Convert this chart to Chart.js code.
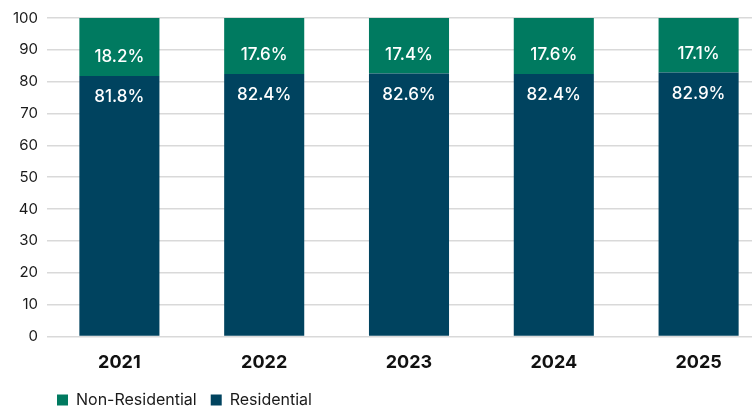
<!DOCTYPE html>
<html>
<head>
<meta charset="utf-8">
<script src="https://cdn.jsdelivr.net/npm/chart.js@4"></script>
<style>
  html, body { margin: 0; padding: 0; background: #fff; overflow: hidden; }
  #wrap { width: 771px; height: 409px; }
</style>
</head>
<body>
<div id="wrap"><canvas id="mix" width="771" height="409"></canvas></div>
<script>
const years = ["2021", "2022", "2023", "2024", "2025"];
const residential = [81.8, 82.4, 82.6, 82.4, 82.9];
const nonResidential = [18.2, 17.6, 17.4, 17.6, 17.1];
const yTicks = [0, 10, 20, 30, 40, 50, 60, 70, 80, 90, 100];

const fontName = "Inter, 'Open Sans', sans-serif";

// white % labels inside each bar segment
const segLabels = {
  id: 'segLabels',
  afterDatasetsDraw(chart) {
    const ctx = chart.ctx;
    ctx.save();
    ctx.fillStyle = '#ffffff';
    ctx.font = '500 17px ' + fontName;
    ctx.textAlign = 'center';
    ctx.textBaseline = 'middle';
    chart.data.datasets.forEach(function (ds, di) {
      chart.getDatasetMeta(di).data.forEach(function (bar, i) {
        let y;
        if (ds.label === 'Residential') y = bar.y + 21;
        else y = bar.base - 19;
        ctx.fillText(ds.data[i].toFixed(1) + '%', bar.x, y);
      });
    });
    ctx.restore();
  }
};

// push legend over to line up under the plot
const legendShift = {
  id: 'legendShift',
  afterLayout(chart) {
    chart.legend.left += 43;
    chart.legend.top -= 2;
  }
};

new Chart(document.getElementById('mix').getContext('2d'), {
  type: 'bar',
  data: {
    labels: years,
    datasets: [
      {
        label: 'Residential',
        data: residential,
        backgroundColor: '#00435F',
        barPercentage: 0.553,
        categoryPercentage: 1
      },
      {
        label: 'Non-Residential',
        data: nonResidential,
        backgroundColor: '#007A60',
        barPercentage: 0.553,
        categoryPercentage: 1
      }
    ]
  },
  plugins: [segLabels, legendShift],
  options: {
    responsive: false,
    animation: false,
    layout: { padding: { top: 9, right: 0, left: 0, bottom: -11 } },
    scales: {
      x: {
        stacked: true,
        grid: { display: false },
        border: { display: false },
        ticks: {
          color: '#111',
          padding: 7,
          font: { family: fontName, size: 18, weight: 'bold' }
        }
      },
      y: {
        stacked: true,
        min: 0,
        max: 100,
        afterFit(scale) { scale.width = 47; },
        afterBuildTicks(scale) { scale.ticks = yTicks.map(v => ({ value: v })); },
        grid: { color: '#d9d9d9', lineWidth: 1.5, drawTicks: false },
        border: { display: false },
        ticks: {
          color: '#1a1a1a',
          padding: 9,
          font: { family: fontName, size: 15 }
        }
      }
    },
    plugins: {
      tooltip: { enabled: false },
      legend: {
        position: 'bottom',
        align: 'start',
        reverse: true,
        labels: {
          boxWidth: 11,
          boxHeight: 11,
          padding: 14,
          color: '#1a1a1a',
          font: { family: fontName, size: 16 }
        }
      }
    }
  }
});
</script>
</body>
</html>
